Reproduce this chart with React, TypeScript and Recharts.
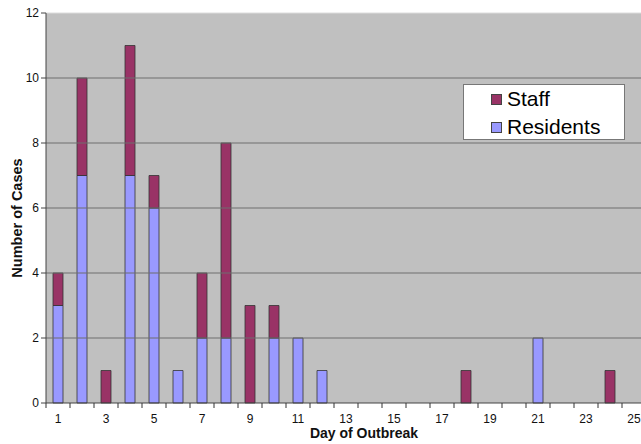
import { Bar, BarChart, CartesianGrid, Legend, ReferenceLine, XAxis, YAxis } from 'recharts';

const days = [1, 2, 3, 4, 5, 6, 7, 8, 9, 10, 11, 12, 13, 14, 15, 16, 17, 18, 19, 20, 21, 22, 23, 24, 25];
const residents = [3, 7, 0, 7, 6, 1, 2, 2, 0, 2, 2, 1, 0, 0, 0, 0, 0, 0, 0, 0, 2, 0, 0, 0, 0];
const staff = [1, 3, 1, 4, 1, 0, 2, 6, 3, 1, 0, 0, 0, 0, 0, 0, 0, 1, 0, 0, 0, 0, 0, 1, 0];
const yTicks = [0, 2, 4, 6, 8, 10, 12];
const gridValues = [2, 4, 6, 8, 10];

const STAFF = '#993366';
const RES = '#9999ff';
const FONT = '"Liberation Sans", Arial, sans-serif';

const data = days.map((d, i) => ({ day: d, residents: residents[i], staff: staff[i] }));

const BAND = 24;

function DayTick(props: any) {
  const { x, y, payload } = props;
  const day = payload.value as number;
  return (
    <g>
      <line x1={x - BAND / 2} y1={y - 8} x2={x - BAND / 2} y2={y - 3} stroke="#333" />
      {day % 2 === 1 && (
        <text x={x} y={y + 12} textAnchor="middle" fontSize={12} fill="#111" fontFamily={FONT}>
          {day}
        </text>
      )}
    </g>
  );
}

function LegendBox() {
  const items = [
    { name: 'Staff', color: STAFF },
    { name: 'Residents', color: RES },
  ];
  return (
    <div
      style={{
        background: '#fff',
        border: '1px solid #777',
        width: 162,
        height: 56,
        boxSizing: 'border-box',
        padding: '0 0 0 27px',
        fontFamily: FONT,
        fontSize: 21,
        lineHeight: '28px',
        color: '#000',
      }}
    >
      {items.map((it) => (
        <div key={it.name} style={{ display: 'flex', alignItems: 'center' }}>
          <span
            style={{
              display: 'inline-block',
              width: 9,
              height: 9,
              background: it.color,
              border: '1px solid #444',
              marginRight: 5,
            }}
          />
          {it.name}
        </div>
      ))}
    </div>
  );
}

export default function App() {
  return (
    <div style={{ position: 'absolute', left: 0, top: 0, width: 641, height: 444, overflow: 'hidden', background: '#fff' }}>
      <BarChart
        width={660}
        height={444}
        data={data}
        margin={{ top: 13, right: 14, left: 0, bottom: 11 }}
        barSize={10}
      >
        <CartesianGrid horizontal={false} vertical={false} fill="#c0c0c0" />
        {gridValues.map((v) => (
          <ReferenceLine key={v} y={v} stroke="#6e6e6e" strokeWidth={1.2} />
        ))}
        <ReferenceLine y={12} stroke="#dcdcdc" />
        <XAxis
          dataKey="day"
          interval={0}
          height={30}
          stroke="#444"
          tickLine={false}
          tick={<DayTick />}
          label={({ viewBox }: any) => (
            <text
              x={viewBox.x + viewBox.width / 2 + 18}
              y={viewBox.y + 35}
              textAnchor="middle"
              fontSize={14}
              fontWeight="bold"
              fontFamily={FONT}
              fill="#111"
            >
              Day of Outbreak
            </text>
          )}
        />
        <YAxis
          width={46}
          domain={[0, 12]}
          ticks={yTicks}
          stroke="#444"
          tickSize={5}
          tick={{ fontSize: 12, fill: '#111', fontFamily: FONT }}
          label={({ viewBox }: any) => (
            <text
              x={17}
              y={viewBox.y + viewBox.height / 2 + 10}
              transform={`rotate(-90, 17, ${viewBox.y + viewBox.height / 2 + 10})`}
              textAnchor="middle"
              dominantBaseline="central"
              fontSize={14.5}
              fontWeight="bold"
              fontFamily={FONT}
              fill="#111"
            >
              Number of Cases
            </text>
          )}
        />
        <Legend
          layout="vertical"
          align="center"
          verticalAlign="middle"
          wrapperStyle={{ left: 463, top: 84, width: 162 }}
          content={<LegendBox />}
        />
        <Bar dataKey="residents" stackId="a" fill={RES} stroke="#333" strokeWidth={0.8} isAnimationActive={false} />
        <Bar dataKey="staff" stackId="a" fill={STAFF} stroke="#333" strokeWidth={0.8} isAnimationActive={false} />
      </BarChart>
    </div>
  );
}
